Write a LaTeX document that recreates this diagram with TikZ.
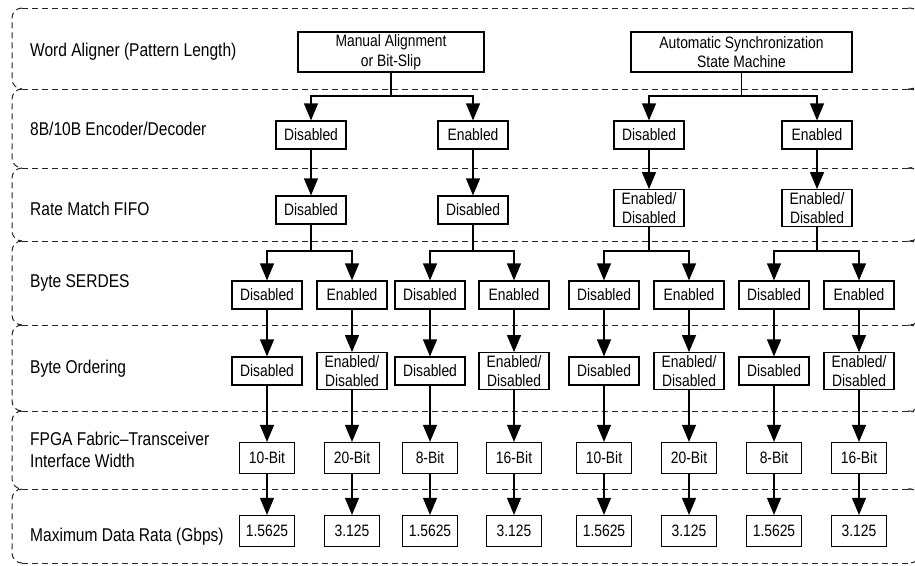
\documentclass[tikz,border=0pt]{standalone}
\usepackage{fontspec}
\setmainfont{Liberation Sans}[FakeStretch=0.84]
\usepackage{tikz}
\usetikzlibrary{arrows.meta, positioning}

\newcommand{\EnDis}{Enabled/\\Disabled}

\tikzset{
  lane/.style={black!85, line width=1pt, dash pattern=on 6pt off 4pt, rounded corners=10pt},
  optbox/.style={draw, line width=1.2pt, align=center, font=\fontsize{16.5}{19.5}\selectfont,
    inner xsep=4pt, inner ysep=2.5pt, minimum width=70pt, minimum height=28pt},
  numbox/.style={optbox, minimum width=55pt, minimum height=31pt},
  flow/.style={line width=1.2pt, -{Triangle[length=17pt, width=14pt]}},
  stagelabel/.style={anchor=west, align=left, inner xsep=0pt, font=\fontsize{18.5}{22}\selectfont}
}

\begin{document}
\begin{tikzpicture}[x=1pt, y=-1pt]
  \clip (0,0) rectangle (915,565);
  \fill[white] (0,0) rectangle (915,565);

  % Draw the stage lanes: one dashed line per boundary, rounded ends on both sides
  \foreach \y in {8,89,168,241,325,411,489,563} {
    \draw[lane] (22,\y) -- (908,\y);
  }
  \foreach \ya/\yb in {8/89, 89/168, 168/241, 241/325, 325/411, 411/489, 489/563} {
    \draw[lane] (22,\ya) -- (12,\ya) -- (12,\yb) -- (22,\yb);
    \draw[lane] (908,\ya) -- (920,\ya) -- (920,\yb) -- (908,\yb);
  }

  % Stage names
  \node[stagelabel] (lwa)   at (30,52)  {Word Aligner (Pattern Length)};
  \node[stagelabel] (lenc)  at (30,129) {8B/10B Encoder/Decoder};
  \node[stagelabel] (lrm)   at (30,209) {Rate Match FIFO};
  \node[stagelabel] (lser)  at (30,283) {Byte SERDES};
  \node[stagelabel] (lord)  at (30,369) {Byte Ordering};
  \node[stagelabel] (lwid)  at (30,450) {FPGA Fabric--Transceiver\\Interface Width};
  \node[stagelabel] (lrate) at (30,537) {Maximum Data Rata (Gbps)};

  % Word aligner modes
  \node[optbox, minimum width=186pt, minimum height=40pt] (man)  at (391,52)   {Manual Alignment\\or Bit-Slip};
  \node[optbox, minimum width=221pt, minimum height=40pt] (auto) at (741.5,52) {Automatic Synchronization\\State Machine};

  % 8B/10B and rate match FIFO
  \node[optbox] (enc1) at (311,135) {Disabled};
  \node[optbox] (enc2) at (473,135) {Enabled};
  \node[optbox] (enc3) at (649,135) {Disabled};
  \node[optbox] (enc4) at (817,135) {Enabled};

  \node[optbox] (rm1) at (311,210) {Disabled};
  \node[optbox] (rm2) at (473,210) {Disabled};
  \node[optbox] (rm3) at (649,208) {\EnDis};
  \node[optbox] (rm4) at (817,208) {\EnDis};

  % Byte SERDES, byte ordering, interface width and data rate per column
  \foreach \x/\ser/\ord/\wid/\rate [count=\i] in {
      267/Disabled/Disabled/10-Bit/1.5625, 352/Enabled/\EnDis/20-Bit/3.125,
      430/Disabled/Disabled/8-Bit/1.5625,  514/Enabled/\EnDis/16-Bit/3.125,
      604/Disabled/Disabled/10-Bit/1.5625, 689/Enabled/\EnDis/20-Bit/3.125,
      774/Disabled/Disabled/8-Bit/1.5625,  859/Enabled/\EnDis/16-Bit/3.125} {
    \node[optbox] (ser\i)  at (\x,295) {\ser};
    \node[optbox] (ord\i)  at (\x,371) {\ord};
    \node[numbox] (wid\i)  at (\x,458) {\wid};
    \node[numbox] (rate\i) at (\x,531) {\rate};
    \draw[flow] (ser\i.south) -- (ord\i.north);
    \draw[flow] (ord\i.south) -- (wid\i.north);
    \draw[flow] (wid\i.south) -- (rate\i.north);
  }

  % Branch points
  \coordinate (split1) at (0,96);
  \coordinate (split2) at (0,251);

  \draw[flow] (man.south) -- (man.south |- split1) -| (enc1.north);
  \draw[flow] (man.south |- split1) -| (enc2.north);
  \draw[flow] (auto.south) -- (auto.south |- split1) -| (enc3.north);
  \draw[flow] (auto.south |- split1) -| (enc4.north);

  \foreach \i in {1,...,4} {
    \draw[flow] (enc\i.south) -- (rm\i.north);
  }

  \foreach \p/\a/\b in {1/1/2, 2/3/4, 3/5/6, 4/7/8} {
    \draw[flow] (rm\p.south) -- (rm\p.south |- split2) -| (ser\a.north);
    \draw[flow] (rm\p.south |- split2) -| (ser\b.north);
  }
\end{tikzpicture}
\end{document}
